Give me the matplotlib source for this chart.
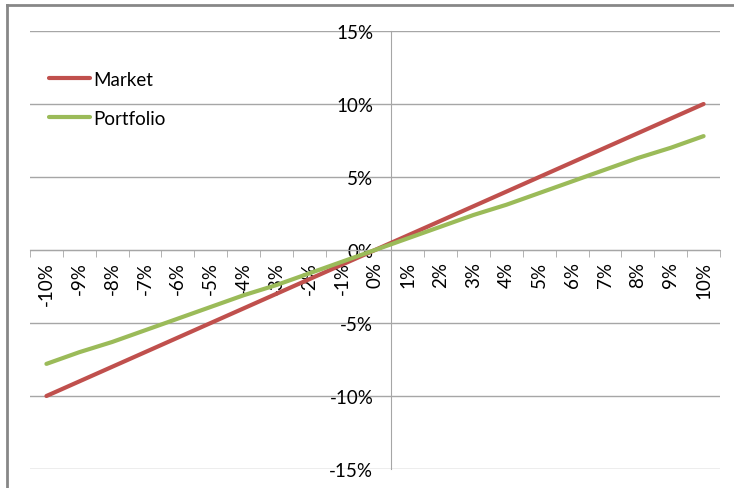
import numpy as np
import matplotlib
matplotlib.use('Agg')
import matplotlib.pyplot as plt
from matplotlib.lines import Line2D

plt.rcParams['font.family'] = ['Lato', 'DejaVu Sans']

# data, in percent
categories = ['-10%', '-9%', '-8%', '-7%', '-6%', '-5%', '-4%', '-3%', '-2%', '-1%', '0%',
              '1%', '2%', '3%', '4%', '5%', '6%', '7%', '8%', '9%', '10%']
market = [-10, -9, -8, -7, -6, -5, -4, -3, -2, -1, 0, 1, 2, 3, 4, 5, 6, 7, 8, 9, 10]
portfolio = [-7.8, -7.0, -6.3, -5.5, -4.7, -3.9, -3.1, -2.4, -1.6, -0.8, 0,
             0.8, 1.6, 2.4, 3.1, 3.9, 4.7, 5.5, 6.3, 7.0, 7.8]
yticks = [-15, -10, -5, 0, 5, 10, 15]

W, H = 734, 489
fig = plt.figure(figsize=(W / 100, H / 100), dpi=100)
ax = fig.add_axes([30 / W, 1 - 470 / H, 690 / W, 438 / H])

x = np.arange(len(categories))
ax.plot(x, market, color='#C0504D', lw=3, solid_capstyle='round', label='Market', zorder=3)
ax.plot(x, portfolio, color='#9BBB59', lw=3, solid_capstyle='round', label='Portfolio', zorder=3)

ax.set_xlim(-0.5, len(categories) - 0.5)
ax.set_ylim(-15, 15)

# gridlines
for v in yticks:
    ax.axhline(v, color='#A6A6A6', lw=1, zorder=1)

for s in ['top', 'right']:
    ax.spines[s].set_visible(False)
ax.spines['bottom'].set_position(('data', 0))
ax.spines['left'].set_position(('data', 10.5))
ax.spines['bottom'].set_color('#A6A6A6')
ax.spines['left'].set_color('#A6A6A6')

ax.set_xticks(x)
ax.set_xticklabels(categories, rotation=90, fontsize=13.5, va='top')
ax.set_xticks(np.arange(-0.5, len(categories)), minor=True)
ax.tick_params(axis='x', which='major', length=0, pad=8)
ax.tick_params(axis='x', which='minor', length=5, color='#A6A6A6', direction='out')

ax.set_yticks(yticks)
ax.set_yticklabels([f'{v}%' for v in yticks], fontsize=13.5)
ax.tick_params(axis='y', length=0, pad=13)

leg = ax.legend(loc='upper left', bbox_to_anchor=(0.0275, 0.909), frameon=False,
                fontsize=13.5, handlelength=2.2, handletextpad=0.15,
                labelspacing=1.16, borderpad=0, borderaxespad=0)

# chart border (partially cropped)
fig.add_artist(Line2D([7 / W, 7 / W], [0, 1 - 6 / H], color='#878787', lw=2))
fig.add_artist(Line2D([7 / W, 1], [1 - 6 / H, 1 - 6 / H], color='#878787', lw=2))

fig.savefig('out.png', dpi=100)
